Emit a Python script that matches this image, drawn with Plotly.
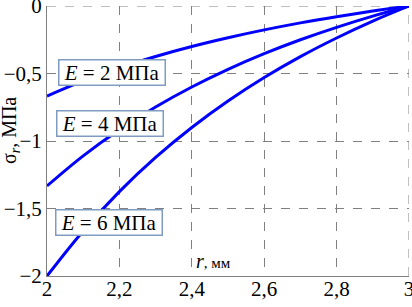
import plotly.graph_objects as go

r = [2.0, 2.1, 2.2, 2.3, 2.4, 2.5, 2.6, 2.7, 2.8, 2.9, 3.0]
sigma_E2 = [-0.667, -0.555, -0.458, -0.374, -0.300, -0.235, -0.177, -0.125, -0.079, -0.037, 0.0]
sigma_E4 = [-1.333, -1.110, -0.917, -0.748, -0.600, -0.469, -0.353, -0.250, -0.158, -0.075, 0.0]
sigma_E6 = [-2.000, -1.666, -1.375, -1.122, -0.900, -0.704, -0.530, -0.375, -0.237, -0.112, 0.0]

x_ticks = [2, 2.2, 2.4, 2.6, 2.8, 3]
x_ticklabels = ["2", "2,2", "2,4", "2,6", "2,8", "3"]
y_ticks = [0, -0.5, -1, -1.5, -2]
y_ticklabels = ["0", "\u22120,5", "\u22121", "\u22121,5", "\u22122"]

labels = ["\u00a0<i>E</i> = 2 МПа\u00a0", "\u00a0<i>E</i> = 4 МПа\u00a0", "\u00a0<i>E</i> = 6 МПа\u00a0"]
label_x = [2.18, 2.175, 2.172]
label_y = [-0.489, -0.867, -1.604]

FONT = "Liberation Serif"
GRID = "#808080"

fig = go.Figure()
for s in [sigma_E2, sigma_E4, sigma_E6]:
    fig.add_trace(go.Scatter(x=r, y=s, mode="lines", line=dict(color="#0000ff", width=3),
                             line_shape="spline", showlegend=False, hoverinfo="skip"))

# gridlines at the range edges (plotly omits them)
fig.add_shape(type="line", xref="x", yref="y", x0=2, x1=3, y0=0, y1=0,
              line=dict(color=GRID, width=1, dash="dash"), layer="below")
fig.add_shape(type="line", xref="x", yref="y", x0=3, x1=3, y0=-2, y1=0,
              line=dict(color=GRID, width=1, dash="dash"), layer="below")

for t, lx, ly in zip(labels, label_x, label_y):
    fig.add_annotation(x=lx, y=ly, xref="x", yref="y", text=t, showarrow=False,
                       font=dict(family=FONT, size=21, color="black"),
                       bgcolor="white", bordercolor="#7f9cc0", borderwidth=1.5, borderpad=0)

fig.add_annotation(x=2.406, y=-1.889, xref="x", yref="y", xanchor="left", yanchor="middle",
                   text="<i>r</i><span style='font-size:15px'>, мм</span>", showarrow=False,
                   font=dict(family=FONT, size=20, color="black"))

fig.add_annotation(x=-0.102, y=0.537, xref="paper", yref="paper", textangle=-90,
                   xanchor="center", yanchor="middle",
                   text="σ<sub><i>r</i></sub>, МПа", showarrow=False,
                   font=dict(family=FONT, size=20, color="black"))

fig.update_xaxes(range=[2, 3], tickvals=x_ticks, ticktext=x_ticklabels,
                 showgrid=True, gridcolor=GRID, griddash="dash", gridwidth=1,
                 showline=True, linecolor=GRID, linewidth=1, zeroline=False,
                 ticks="", ticklabeloverflow="allow", automargin=False,
                 ticklabelstandoff=-6,
                 tickfont=dict(family=FONT, size=21, color="black"))
fig.update_yaxes(range=[-2, 0], tickvals=y_ticks, ticktext=y_ticklabels,
                 showgrid=True, gridcolor=GRID, griddash="dash", gridwidth=1,
                 showline=True, linecolor=GRID, linewidth=1, zeroline=False,
                 ticks="", ticklabeloverflow="allow", automargin=False,
                 tickfont=dict(family=FONT, size=21, color="black"))

fig.update_layout(width=412, height=307, margin=dict(l=47, r=3, t=6, b=31),
                  plot_bgcolor="white", paper_bgcolor="white", hovermode=False)

fig.write_html("out.html", config={"displayModeBar": False},
               post_script="document.body.style.margin='0';")
